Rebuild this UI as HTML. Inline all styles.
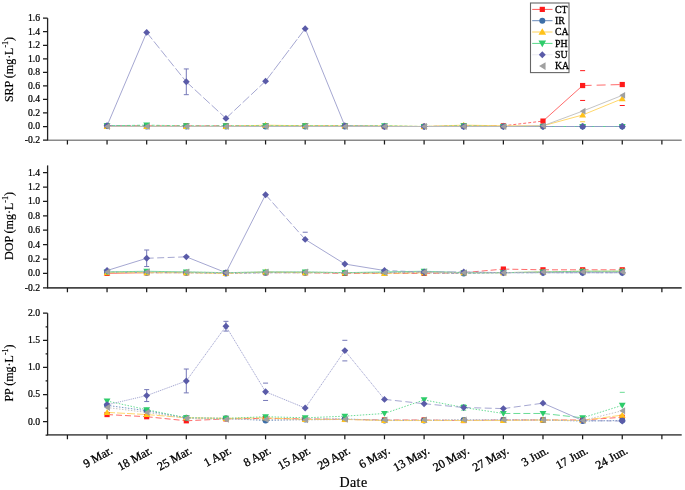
<!DOCTYPE html><html><head><meta charset="utf-8"><style>html,body{margin:0;padding:0;background:#fff;overflow:hidden;width:685px;height:490px;}svg{display:block;will-change:transform;font-family:"Liberation Serif",serif;} text{stroke:#000;stroke-width:0.3px;fill:#000;}</style></head><body>
<svg width="685" height="490" viewBox="0 0 685 490">
<rect width="685" height="490" fill="#fff"/>
<path d="M107.05,125.82L146.68,125.82" fill="none" stroke="#ff5a5a" stroke-width="0.9" stroke-dasharray="6,3"/>
<path d="M146.68,125.82L186.31,125.82" fill="none" stroke="#ff5a5a" stroke-width="0.9" stroke-dasharray="6,3"/>
<path d="M186.31,125.82L225.94,125.82" fill="none" stroke="#ff5a5a" stroke-width="0.9" stroke-dasharray="6,3"/>
<path d="M225.94,125.82L265.57,125.82" fill="none" stroke="#ff5a5a" stroke-width="0.9" stroke-dasharray="6,3"/>
<path d="M265.57,125.82L305.20,125.82" fill="none" stroke="#ff5a5a" stroke-width="0.9" stroke-dasharray="6,3"/>
<path d="M305.20,125.82L344.83,125.82" fill="none" stroke="#ff5a5a" stroke-width="0.9" stroke-dasharray="6,3"/>
<path d="M344.83,125.82L384.47,126.50" fill="none" stroke="#ff5a5a" stroke-width="0.9" stroke-dasharray="6,3"/>
<path d="M384.47,126.50L424.10,126.50" fill="none" stroke="#ff5a5a" stroke-width="0.9" stroke-dasharray="6,3"/>
<path d="M424.10,126.50L463.73,125.82" fill="none" stroke="#ff5a5a" stroke-width="0.9" stroke-dasharray="6,3"/>
<path d="M463.73,125.82L503.36,125.82" fill="none" stroke="#ff5a5a" stroke-width="0.9" stroke-dasharray="6,3"/>
<path d="M503.36,125.82L542.99,121.08" fill="none" stroke="#ff5a5a" stroke-width="0.9" stroke-dasharray="3,2"/>
<path d="M542.99,121.08L582.62,85.54" fill="none" stroke="#ff5a5a" stroke-width="0.9"/>
<path d="M582.62,85.54L622.25,84.53" fill="none" stroke="#ff5a5a" stroke-width="0.9" stroke-dasharray="9,5"/>
<path d="M107.05,125.82L146.68,126.50" fill="none" stroke="#6a8cbc" stroke-width="0.9"/>
<path d="M146.68,126.50L186.31,126.50" fill="none" stroke="#6a8cbc" stroke-width="0.9"/>
<path d="M186.31,126.50L225.94,126.50" fill="none" stroke="#6a8cbc" stroke-width="0.9"/>
<path d="M225.94,126.50L265.57,126.50" fill="none" stroke="#6a8cbc" stroke-width="0.9"/>
<path d="M265.57,126.50L305.20,126.50" fill="none" stroke="#6a8cbc" stroke-width="0.9"/>
<path d="M305.20,126.50L344.83,126.50" fill="none" stroke="#6a8cbc" stroke-width="0.9"/>
<path d="M344.83,126.50L384.47,126.50" fill="none" stroke="#6a8cbc" stroke-width="0.9"/>
<path d="M384.47,126.50L424.10,126.50" fill="none" stroke="#6a8cbc" stroke-width="0.9"/>
<path d="M424.10,126.50L463.73,126.50" fill="none" stroke="#6a8cbc" stroke-width="0.9"/>
<path d="M463.73,126.50L503.36,126.50" fill="none" stroke="#6a8cbc" stroke-width="0.9"/>
<path d="M503.36,126.50L542.99,126.50" fill="none" stroke="#6a8cbc" stroke-width="0.9"/>
<path d="M542.99,126.50L582.62,126.50" fill="none" stroke="#6a8cbc" stroke-width="0.9"/>
<path d="M582.62,126.50L622.25,126.50" fill="none" stroke="#6a8cbc" stroke-width="0.9"/>
<path d="M107.05,126.50L146.68,126.50" fill="none" stroke="#ffd25a" stroke-width="0.9"/>
<path d="M146.68,126.50L186.31,126.50" fill="none" stroke="#ffd25a" stroke-width="0.9"/>
<path d="M186.31,126.50L225.94,126.50" fill="none" stroke="#ffd25a" stroke-width="0.9"/>
<path d="M225.94,126.50L265.57,125.15" fill="none" stroke="#ffd25a" stroke-width="0.9"/>
<path d="M265.57,125.15L305.20,125.82" fill="none" stroke="#ffd25a" stroke-width="0.9"/>
<path d="M305.20,125.82L344.83,125.82" fill="none" stroke="#ffd25a" stroke-width="0.9"/>
<path d="M344.83,125.82L384.47,125.82" fill="none" stroke="#ffd25a" stroke-width="0.9"/>
<path d="M384.47,125.82L424.10,126.50" fill="none" stroke="#ffd25a" stroke-width="0.9"/>
<path d="M424.10,126.50L463.73,125.15" fill="none" stroke="#ffd25a" stroke-width="0.9"/>
<path d="M463.73,125.15L503.36,125.82" fill="none" stroke="#ffd25a" stroke-width="0.9"/>
<path d="M503.36,125.82L542.99,125.82" fill="none" stroke="#ffd25a" stroke-width="0.9"/>
<path d="M542.99,125.82L582.62,114.99" fill="none" stroke="#ffd25a" stroke-width="0.9"/>
<path d="M582.62,114.99L622.25,98.74" fill="none" stroke="#ffd25a" stroke-width="0.9"/>
<path d="M107.05,125.82L146.68,125.15" fill="none" stroke="#5ad88a" stroke-width="0.9" stroke-dasharray="3,2"/>
<path d="M146.68,125.15L186.31,125.82" fill="none" stroke="#5ad88a" stroke-width="0.9" stroke-dasharray="3,2"/>
<path d="M186.31,125.82L225.94,125.82" fill="none" stroke="#5ad88a" stroke-width="0.9" stroke-dasharray="3,2"/>
<path d="M225.94,125.82L265.57,125.82" fill="none" stroke="#5ad88a" stroke-width="0.9" stroke-dasharray="3,2"/>
<path d="M265.57,125.82L305.20,125.82" fill="none" stroke="#5ad88a" stroke-width="0.9" stroke-dasharray="3,2"/>
<path d="M305.20,125.82L344.83,125.82" fill="none" stroke="#5ad88a" stroke-width="0.9" stroke-dasharray="3,2"/>
<path d="M344.83,125.82L384.47,125.82" fill="none" stroke="#5ad88a" stroke-width="0.9" stroke-dasharray="3,2"/>
<path d="M384.47,125.82L424.10,126.50" fill="none" stroke="#5ad88a" stroke-width="0.9" stroke-dasharray="3,2"/>
<path d="M424.10,126.50L463.73,125.82" fill="none" stroke="#5ad88a" stroke-width="0.9" stroke-dasharray="3,2"/>
<path d="M463.73,125.82L503.36,126.50" fill="none" stroke="#5ad88a" stroke-width="0.9" stroke-dasharray="3,2"/>
<path d="M503.36,126.50L542.99,126.50" fill="none" stroke="#5ad88a" stroke-width="0.9" stroke-dasharray="3,2"/>
<path d="M542.99,126.50L582.62,126.50" fill="none" stroke="#5ad88a" stroke-width="0.9" stroke-dasharray="3,2"/>
<path d="M582.62,126.50L622.25,126.50" fill="none" stroke="#5ad88a" stroke-width="0.9" stroke-dasharray="3,2"/>
<path d="M107.05,125.82L146.68,32.40" fill="none" stroke="#9597c9" stroke-width="0.85"/>
<path d="M146.68,32.40L186.31,81.82" fill="none" stroke="#9597c9" stroke-width="0.85" stroke-dasharray="9,2.5"/>
<path d="M186.31,81.82L225.94,118.38" fill="none" stroke="#9597c9" stroke-width="0.85" stroke-dasharray="9,2.5"/>
<path d="M225.94,118.38L265.57,81.14" fill="none" stroke="#9597c9" stroke-width="0.85" stroke-dasharray="9,2.5"/>
<path d="M265.57,81.14L305.20,28.67" fill="none" stroke="#9597c9" stroke-width="0.85" stroke-dasharray="12,1.5"/>
<path d="M305.20,28.67L344.83,125.82" fill="none" stroke="#9597c9" stroke-width="0.85"/>
<path d="M344.83,125.82L384.47,126.50" fill="none" stroke="#9597c9" stroke-width="0.85" stroke-dasharray="9,2.5"/>
<path d="M384.47,126.50L424.10,126.50" fill="none" stroke="#9597c9" stroke-width="0.85" stroke-dasharray="9,2.5"/>
<path d="M424.10,126.50L463.73,126.50" fill="none" stroke="#9597c9" stroke-width="0.85" stroke-dasharray="9,2.5"/>
<path d="M463.73,126.50L503.36,126.50" fill="none" stroke="#9597c9" stroke-width="0.85" stroke-dasharray="9,2.5"/>
<path d="M503.36,126.50L542.99,126.50" fill="none" stroke="#9597c9" stroke-width="0.85" stroke-dasharray="9,2.5"/>
<path d="M542.99,126.50L582.62,126.50" fill="none" stroke="#9597c9" stroke-width="0.85" stroke-dasharray="9,2.5"/>
<path d="M582.62,126.50L622.25,126.50" fill="none" stroke="#9597c9" stroke-width="0.85" stroke-dasharray="9,2.5"/>
<path d="M107.05,126.50L146.68,126.50" fill="none" stroke="#bdbdbd" stroke-width="0.9"/>
<path d="M146.68,126.50L186.31,126.50" fill="none" stroke="#bdbdbd" stroke-width="0.9"/>
<path d="M186.31,126.50L225.94,126.50" fill="none" stroke="#bdbdbd" stroke-width="0.9"/>
<path d="M225.94,126.50L265.57,126.50" fill="none" stroke="#bdbdbd" stroke-width="0.9"/>
<path d="M265.57,126.50L305.20,126.50" fill="none" stroke="#bdbdbd" stroke-width="0.9"/>
<path d="M305.20,126.50L344.83,126.50" fill="none" stroke="#bdbdbd" stroke-width="0.9"/>
<path d="M344.83,126.50L384.47,126.50" fill="none" stroke="#bdbdbd" stroke-width="0.9"/>
<path d="M384.47,126.50L424.10,126.50" fill="none" stroke="#bdbdbd" stroke-width="0.9"/>
<path d="M424.10,126.50L463.73,126.50" fill="none" stroke="#bdbdbd" stroke-width="0.9"/>
<path d="M463.73,126.50L503.36,126.50" fill="none" stroke="#bdbdbd" stroke-width="0.9"/>
<path d="M503.36,126.50L542.99,125.82" fill="none" stroke="#bdbdbd" stroke-width="0.9"/>
<path d="M542.99,125.82L582.62,111.13" fill="none" stroke="#bdbdbd" stroke-width="0.9"/>
<path d="M582.62,111.13L622.25,95.36" fill="none" stroke="#bdbdbd" stroke-width="0.9"/>
<path d="M186.31,68.95V94.68M183.81,68.95H188.81M183.81,94.68H188.81" stroke="#7679b8" stroke-width="1" fill="none"/>
<path d="M580.12,70.65H585.12M580.12,100.44H585.12" stroke="#ff1a1a" stroke-width="1" fill="none"/>
<path d="M619.75,105.51H624.75" stroke="#ff1a1a" stroke-width="1" fill="none"/>
<path d="M580.12,121.76H585.12" stroke="#ffcf40" stroke-width="1" fill="none"/>
<rect x="104.45" y="123.22" width="5.20" height="5.20" fill="#ff1a1a"/>
<rect x="144.08" y="123.22" width="5.20" height="5.20" fill="#ff1a1a"/>
<rect x="183.71" y="123.22" width="5.20" height="5.20" fill="#ff1a1a"/>
<rect x="223.34" y="123.22" width="5.20" height="5.20" fill="#ff1a1a"/>
<rect x="262.97" y="123.22" width="5.20" height="5.20" fill="#ff1a1a"/>
<rect x="302.60" y="123.22" width="5.20" height="5.20" fill="#ff1a1a"/>
<rect x="342.23" y="123.22" width="5.20" height="5.20" fill="#ff1a1a"/>
<rect x="381.87" y="123.90" width="5.20" height="5.20" fill="#ff1a1a"/>
<rect x="421.50" y="123.90" width="5.20" height="5.20" fill="#ff1a1a"/>
<rect x="461.13" y="123.22" width="5.20" height="5.20" fill="#ff1a1a"/>
<rect x="500.76" y="123.22" width="5.20" height="5.20" fill="#ff1a1a"/>
<rect x="540.39" y="118.48" width="5.20" height="5.20" fill="#ff1a1a"/>
<rect x="580.02" y="82.94" width="5.20" height="5.20" fill="#ff1a1a"/>
<rect x="619.65" y="81.93" width="5.20" height="5.20" fill="#ff1a1a"/>
<circle cx="107.05" cy="125.82" r="3.00" fill="#3c6ea8"/>
<circle cx="146.68" cy="126.50" r="3.00" fill="#3c6ea8"/>
<circle cx="186.31" cy="126.50" r="3.00" fill="#3c6ea8"/>
<circle cx="225.94" cy="126.50" r="3.00" fill="#3c6ea8"/>
<circle cx="265.57" cy="126.50" r="3.00" fill="#3c6ea8"/>
<circle cx="305.20" cy="126.50" r="3.00" fill="#3c6ea8"/>
<circle cx="344.83" cy="126.50" r="3.00" fill="#3c6ea8"/>
<circle cx="384.47" cy="126.50" r="3.00" fill="#3c6ea8"/>
<circle cx="424.10" cy="126.50" r="3.00" fill="#3c6ea8"/>
<circle cx="463.73" cy="126.50" r="3.00" fill="#3c6ea8"/>
<circle cx="503.36" cy="126.50" r="3.00" fill="#3c6ea8"/>
<circle cx="542.99" cy="126.50" r="3.00" fill="#3c6ea8"/>
<circle cx="582.62" cy="126.50" r="3.00" fill="#3c6ea8"/>
<circle cx="622.25" cy="126.50" r="3.00" fill="#3c6ea8"/>
<path d="M107.05,123.10 L110.45,129.05 L103.65,129.05Z" fill="#ffc21a"/>
<path d="M146.68,123.10 L150.08,129.05 L143.28,129.05Z" fill="#ffc21a"/>
<path d="M186.31,123.10 L189.71,129.05 L182.91,129.05Z" fill="#ffc21a"/>
<path d="M225.94,123.10 L229.34,129.05 L222.54,129.05Z" fill="#ffc21a"/>
<path d="M265.57,121.75 L268.97,127.70 L262.17,127.70Z" fill="#ffc21a"/>
<path d="M305.20,122.42 L308.60,128.37 L301.80,128.37Z" fill="#ffc21a"/>
<path d="M344.83,122.42 L348.23,128.37 L341.43,128.37Z" fill="#ffc21a"/>
<path d="M384.47,122.42 L387.87,128.37 L381.07,128.37Z" fill="#ffc21a"/>
<path d="M424.10,123.10 L427.50,129.05 L420.70,129.05Z" fill="#ffc21a"/>
<path d="M463.73,121.75 L467.13,127.70 L460.33,127.70Z" fill="#ffc21a"/>
<path d="M503.36,122.42 L506.76,128.37 L499.96,128.37Z" fill="#ffc21a"/>
<path d="M542.99,122.42 L546.39,128.37 L539.59,128.37Z" fill="#ffc21a"/>
<path d="M582.62,111.59 L586.02,117.54 L579.22,117.54Z" fill="#ffc21a"/>
<path d="M622.25,95.34 L625.65,101.29 L618.85,101.29Z" fill="#ffc21a"/>
<path d="M107.05,129.22 L110.45,123.27 L103.65,123.27Z" fill="#2ecc6a"/>
<path d="M146.68,128.55 L150.08,122.60 L143.28,122.60Z" fill="#2ecc6a"/>
<path d="M186.31,129.22 L189.71,123.27 L182.91,123.27Z" fill="#2ecc6a"/>
<path d="M225.94,129.22 L229.34,123.27 L222.54,123.27Z" fill="#2ecc6a"/>
<path d="M265.57,129.22 L268.97,123.27 L262.17,123.27Z" fill="#2ecc6a"/>
<path d="M305.20,129.22 L308.60,123.27 L301.80,123.27Z" fill="#2ecc6a"/>
<path d="M344.83,129.22 L348.23,123.27 L341.43,123.27Z" fill="#2ecc6a"/>
<path d="M384.47,129.22 L387.87,123.27 L381.07,123.27Z" fill="#2ecc6a"/>
<path d="M424.10,129.90 L427.50,123.95 L420.70,123.95Z" fill="#2ecc6a"/>
<path d="M463.73,129.22 L467.13,123.27 L460.33,123.27Z" fill="#2ecc6a"/>
<path d="M503.36,129.90 L506.76,123.95 L499.96,123.95Z" fill="#2ecc6a"/>
<path d="M542.99,129.90 L546.39,123.95 L539.59,123.95Z" fill="#2ecc6a"/>
<path d="M582.62,129.90 L586.02,123.95 L579.22,123.95Z" fill="#2ecc6a"/>
<path d="M622.25,129.90 L625.65,123.95 L618.85,123.95Z" fill="#2ecc6a"/>
<path d="M107.05,122.37 L110.50,125.82 L107.05,129.27 L103.60,125.82Z" fill="#5a5ba8"/>
<path d="M146.68,28.95 L150.13,32.40 L146.68,35.85 L143.23,32.40Z" fill="#5a5ba8"/>
<path d="M186.31,78.37 L189.76,81.82 L186.31,85.27 L182.86,81.82Z" fill="#5a5ba8"/>
<path d="M225.94,114.93 L229.39,118.38 L225.94,121.83 L222.49,118.38Z" fill="#5a5ba8"/>
<path d="M265.57,77.69 L269.02,81.14 L265.57,84.59 L262.12,81.14Z" fill="#5a5ba8"/>
<path d="M305.20,25.22 L308.65,28.67 L305.20,32.12 L301.75,28.67Z" fill="#5a5ba8"/>
<path d="M344.83,122.37 L348.28,125.82 L344.83,129.27 L341.38,125.82Z" fill="#5a5ba8"/>
<path d="M384.47,123.05 L387.92,126.50 L384.47,129.95 L381.02,126.50Z" fill="#5a5ba8"/>
<path d="M424.10,123.05 L427.55,126.50 L424.10,129.95 L420.65,126.50Z" fill="#5a5ba8"/>
<path d="M463.73,123.05 L467.18,126.50 L463.73,129.95 L460.28,126.50Z" fill="#5a5ba8"/>
<path d="M503.36,123.05 L506.81,126.50 L503.36,129.95 L499.91,126.50Z" fill="#5a5ba8"/>
<path d="M542.99,123.05 L546.44,126.50 L542.99,129.95 L539.54,126.50Z" fill="#5a5ba8"/>
<path d="M582.62,123.05 L586.07,126.50 L582.62,129.95 L579.17,126.50Z" fill="#5a5ba8"/>
<path d="M622.25,123.05 L625.70,126.50 L622.25,129.95 L618.80,126.50Z" fill="#5a5ba8"/>
<path d="M104.16,126.50 L109.94,123.10 L109.94,129.90Z" fill="#a0a0a0"/>
<path d="M143.79,126.50 L149.57,123.10 L149.57,129.90Z" fill="#a0a0a0"/>
<path d="M183.42,126.50 L189.20,123.10 L189.20,129.90Z" fill="#a0a0a0"/>
<path d="M223.05,126.50 L228.83,123.10 L228.83,129.90Z" fill="#a0a0a0"/>
<path d="M262.68,126.50 L268.46,123.10 L268.46,129.90Z" fill="#a0a0a0"/>
<path d="M302.31,126.50 L308.09,123.10 L308.09,129.90Z" fill="#a0a0a0"/>
<path d="M341.94,126.50 L347.72,123.10 L347.72,129.90Z" fill="#a0a0a0"/>
<path d="M381.58,126.50 L387.36,123.10 L387.36,129.90Z" fill="#a0a0a0"/>
<path d="M421.21,126.50 L426.99,123.10 L426.99,129.90Z" fill="#a0a0a0"/>
<path d="M460.84,126.50 L466.62,123.10 L466.62,129.90Z" fill="#a0a0a0"/>
<path d="M500.47,126.50 L506.25,123.10 L506.25,129.90Z" fill="#a0a0a0"/>
<path d="M540.10,125.82 L545.88,122.42 L545.88,129.22Z" fill="#a0a0a0"/>
<path d="M579.73,111.13 L585.51,107.73 L585.51,114.53Z" fill="#a0a0a0"/>
<path d="M619.36,95.36 L625.14,91.96 L625.14,98.76Z" fill="#a0a0a0"/>
<path d="M47.00,140.20H681.70" stroke="#8a8a8a" stroke-width="1.4" fill="none"/>
<path d="M47.60,18.18V140.20" stroke="#222" stroke-width="1.3" fill="none"/>
<path d="M43.00,140.04H47.60M43.00,126.50H47.60M43.00,112.96H47.60M43.00,99.42H47.60M43.00,85.88H47.60M43.00,72.34H47.60M43.00,58.80H47.60M43.00,45.26H47.60M43.00,31.72H47.60M43.00,18.18H47.60M67.42,140.20V144.60M107.05,140.20V144.60M146.68,140.20V144.60M186.31,140.20V144.60M225.94,140.20V144.60M265.57,140.20V144.60M305.20,140.20V144.60M344.83,140.20V144.60M384.47,140.20V144.60M424.10,140.20V144.60M463.73,140.20V144.60M503.36,140.20V144.60M542.99,140.20V144.60M582.62,140.20V144.60M622.25,140.20V144.60M661.88,140.20V144.60" stroke="#1a1a1a" stroke-width="1.25" fill="none"/>
<text x="40.10" y="142.94" font-size="9.7" style="stroke-width:0.22px" text-anchor="end" fill="#111">-0.2</text>
<text x="40.10" y="129.40" font-size="9.7" style="stroke-width:0.22px" text-anchor="end" fill="#111">0.0</text>
<text x="40.10" y="115.86" font-size="9.7" style="stroke-width:0.22px" text-anchor="end" fill="#111">0.2</text>
<text x="40.10" y="102.32" font-size="9.7" style="stroke-width:0.22px" text-anchor="end" fill="#111">0.4</text>
<text x="40.10" y="88.78" font-size="9.7" style="stroke-width:0.22px" text-anchor="end" fill="#111">0.6</text>
<text x="40.10" y="75.24" font-size="9.7" style="stroke-width:0.22px" text-anchor="end" fill="#111">0.8</text>
<text x="40.10" y="61.70" font-size="9.7" style="stroke-width:0.22px" text-anchor="end" fill="#111">1.0</text>
<text x="40.10" y="48.16" font-size="9.7" style="stroke-width:0.22px" text-anchor="end" fill="#111">1.2</text>
<text x="40.10" y="34.62" font-size="9.7" style="stroke-width:0.22px" text-anchor="end" fill="#111">1.4</text>
<text x="40.10" y="21.08" font-size="9.7" style="stroke-width:0.22px" text-anchor="end" fill="#111">1.6</text>
<text transform="translate(13.2,69.5) rotate(-90)" x="0" y="0" font-size="12" style="stroke-width:0.18px" text-anchor="middle" fill="#111">SRP (mg·L<tspan font-size="8" dy="-5.2">-1</tspan><tspan dy="5.2">)</tspan></text>
<path d="M107.05,273.40L146.68,272.68" fill="none" stroke="#ff5a5a" stroke-width="0.9"/>
<path d="M146.68,272.68L186.31,272.68" fill="none" stroke="#ff5a5a" stroke-width="0.9" stroke-dasharray="6,3"/>
<path d="M186.31,272.68L225.94,272.68" fill="none" stroke="#ff5a5a" stroke-width="0.9" stroke-dasharray="6,3"/>
<path d="M225.94,272.68L265.57,272.68" fill="none" stroke="#ff5a5a" stroke-width="0.9" stroke-dasharray="6,3"/>
<path d="M265.57,272.68L305.20,272.68" fill="none" stroke="#ff5a5a" stroke-width="0.9" stroke-dasharray="6,3"/>
<path d="M305.20,272.68L344.83,273.40" fill="none" stroke="#ff5a5a" stroke-width="0.9" stroke-dasharray="6,3"/>
<path d="M344.83,273.40L384.47,273.40" fill="none" stroke="#ff5a5a" stroke-width="0.9" stroke-dasharray="6,3"/>
<path d="M384.47,273.40L424.10,273.40" fill="none" stroke="#ff5a5a" stroke-width="0.9" stroke-dasharray="6,3"/>
<path d="M424.10,273.40L463.73,272.68" fill="none" stroke="#ff5a5a" stroke-width="0.9" stroke-dasharray="6,3"/>
<path d="M463.73,272.68L503.36,269.08" fill="none" stroke="#ff5a5a" stroke-width="0.9" stroke-dasharray="6,3"/>
<path d="M503.36,269.08L542.99,269.80" fill="none" stroke="#ff5a5a" stroke-width="0.9" stroke-dasharray="6,3"/>
<path d="M542.99,269.80L582.62,269.80" fill="none" stroke="#ff5a5a" stroke-width="0.9" stroke-dasharray="6,3"/>
<path d="M582.62,269.80L622.25,269.80" fill="none" stroke="#ff5a5a" stroke-width="0.9" stroke-dasharray="6,3"/>
<path d="M107.05,271.96L146.68,272.68" fill="none" stroke="#6a8cbc" stroke-width="0.9" stroke-dasharray="3,1.5"/>
<path d="M146.68,272.68L186.31,272.68" fill="none" stroke="#6a8cbc" stroke-width="0.9" stroke-dasharray="3,1.5"/>
<path d="M186.31,272.68L225.94,273.40" fill="none" stroke="#6a8cbc" stroke-width="0.9" stroke-dasharray="3,1.5"/>
<path d="M225.94,273.40L265.57,272.68" fill="none" stroke="#6a8cbc" stroke-width="0.9" stroke-dasharray="3,1.5"/>
<path d="M265.57,272.68L305.20,272.68" fill="none" stroke="#6a8cbc" stroke-width="0.9" stroke-dasharray="3,1.5"/>
<path d="M305.20,272.68L344.83,272.68" fill="none" stroke="#6a8cbc" stroke-width="0.9" stroke-dasharray="3,1.5"/>
<path d="M344.83,272.68L384.47,272.68" fill="none" stroke="#6a8cbc" stroke-width="0.9" stroke-dasharray="3,1.5"/>
<path d="M384.47,272.68L424.10,272.68" fill="none" stroke="#6a8cbc" stroke-width="0.9" stroke-dasharray="3,1.5"/>
<path d="M424.10,272.68L463.73,273.40" fill="none" stroke="#6a8cbc" stroke-width="0.9" stroke-dasharray="3,1.5"/>
<path d="M463.73,273.40L503.36,272.68" fill="none" stroke="#6a8cbc" stroke-width="0.9" stroke-dasharray="3,1.5"/>
<path d="M503.36,272.68L542.99,272.68" fill="none" stroke="#6a8cbc" stroke-width="0.9" stroke-dasharray="3,1.5"/>
<path d="M542.99,272.68L582.62,272.68" fill="none" stroke="#6a8cbc" stroke-width="0.9" stroke-dasharray="3,1.5"/>
<path d="M582.62,272.68L622.25,272.68" fill="none" stroke="#6a8cbc" stroke-width="0.9" stroke-dasharray="3,1.5"/>
<path d="M107.05,272.68L146.68,272.68" fill="none" stroke="#ffd25a" stroke-width="0.9" stroke-dasharray="8,2"/>
<path d="M146.68,272.68L186.31,272.68" fill="none" stroke="#ffd25a" stroke-width="0.9" stroke-dasharray="8,2"/>
<path d="M186.31,272.68L225.94,273.40" fill="none" stroke="#ffd25a" stroke-width="0.9" stroke-dasharray="8,2"/>
<path d="M225.94,273.40L265.57,271.96" fill="none" stroke="#ffd25a" stroke-width="0.9" stroke-dasharray="8,2"/>
<path d="M265.57,271.96L305.20,272.68" fill="none" stroke="#ffd25a" stroke-width="0.9" stroke-dasharray="8,2"/>
<path d="M305.20,272.68L344.83,272.68" fill="none" stroke="#ffd25a" stroke-width="0.9" stroke-dasharray="8,2"/>
<path d="M344.83,272.68L384.47,273.40" fill="none" stroke="#ffd25a" stroke-width="0.9" stroke-dasharray="8,2"/>
<path d="M384.47,273.40L424.10,272.68" fill="none" stroke="#ffd25a" stroke-width="0.9" stroke-dasharray="8,2"/>
<path d="M424.10,272.68L463.73,272.68" fill="none" stroke="#ffd25a" stroke-width="0.9" stroke-dasharray="8,2"/>
<path d="M463.73,272.68L503.36,272.68" fill="none" stroke="#ffd25a" stroke-width="0.9" stroke-dasharray="8,2"/>
<path d="M503.36,272.68L542.99,271.96" fill="none" stroke="#ffd25a" stroke-width="0.9" stroke-dasharray="8,2"/>
<path d="M542.99,271.96L582.62,271.24" fill="none" stroke="#ffd25a" stroke-width="0.9" stroke-dasharray="8,2"/>
<path d="M582.62,271.24L622.25,271.24" fill="none" stroke="#ffd25a" stroke-width="0.9" stroke-dasharray="8,2"/>
<path d="M107.05,271.96L146.68,271.24" fill="none" stroke="#5ad88a" stroke-width="0.9"/>
<path d="M146.68,271.24L186.31,271.96" fill="none" stroke="#5ad88a" stroke-width="0.9"/>
<path d="M186.31,271.96L225.94,272.68" fill="none" stroke="#5ad88a" stroke-width="0.9"/>
<path d="M225.94,272.68L265.57,271.96" fill="none" stroke="#5ad88a" stroke-width="0.9"/>
<path d="M265.57,271.96L305.20,271.96" fill="none" stroke="#5ad88a" stroke-width="0.9"/>
<path d="M305.20,271.96L344.83,272.68" fill="none" stroke="#5ad88a" stroke-width="0.9"/>
<path d="M344.83,272.68L384.47,271.96" fill="none" stroke="#5ad88a" stroke-width="0.9"/>
<path d="M384.47,271.96L424.10,271.24" fill="none" stroke="#5ad88a" stroke-width="0.9"/>
<path d="M424.10,271.24L463.73,272.68" fill="none" stroke="#5ad88a" stroke-width="0.9"/>
<path d="M463.73,272.68L503.36,272.68" fill="none" stroke="#5ad88a" stroke-width="0.9"/>
<path d="M503.36,272.68L542.99,271.96" fill="none" stroke="#5ad88a" stroke-width="0.9"/>
<path d="M542.99,271.96L582.62,271.24" fill="none" stroke="#5ad88a" stroke-width="0.9"/>
<path d="M582.62,271.24L622.25,271.24" fill="none" stroke="#5ad88a" stroke-width="0.9"/>
<path d="M107.05,270.52L146.68,258.28" fill="none" stroke="#9597c9" stroke-width="0.85"/>
<path d="M146.68,258.28L186.31,256.84" fill="none" stroke="#9597c9" stroke-width="0.85" stroke-dasharray="7,3.5"/>
<path d="M186.31,256.84L225.94,272.68" fill="none" stroke="#9597c9" stroke-width="0.85"/>
<path d="M225.94,272.68L265.57,194.70" fill="none" stroke="#9597c9" stroke-width="0.85"/>
<path d="M265.57,194.70L305.20,239.42" fill="none" stroke="#9597c9" stroke-width="0.85" stroke-dasharray="8,2.5"/>
<path d="M305.20,239.42L344.83,264.04" fill="none" stroke="#9597c9" stroke-width="0.85"/>
<path d="M344.83,264.04L384.47,270.52" fill="none" stroke="#9597c9" stroke-width="0.85"/>
<path d="M384.47,270.52L424.10,271.96" fill="none" stroke="#9597c9" stroke-width="0.85" stroke-dasharray="5,3"/>
<path d="M424.10,271.96L463.73,271.96" fill="none" stroke="#9597c9" stroke-width="0.85" stroke-dasharray="9,2.5"/>
<path d="M463.73,271.96L503.36,272.68" fill="none" stroke="#9597c9" stroke-width="0.85" stroke-dasharray="9,2.5"/>
<path d="M503.36,272.68L542.99,272.68" fill="none" stroke="#9597c9" stroke-width="0.85" stroke-dasharray="9,2.5"/>
<path d="M542.99,272.68L582.62,272.68" fill="none" stroke="#9597c9" stroke-width="0.85" stroke-dasharray="9,2.5"/>
<path d="M582.62,272.68L622.25,272.68" fill="none" stroke="#9597c9" stroke-width="0.85" stroke-dasharray="9,2.5"/>
<path d="M107.05,271.96L146.68,271.96" fill="none" stroke="#bdbdbd" stroke-width="0.9" stroke-dasharray="2,1.5"/>
<path d="M146.68,271.96L186.31,271.96" fill="none" stroke="#bdbdbd" stroke-width="0.9" stroke-dasharray="2,1.5"/>
<path d="M186.31,271.96L225.94,272.68" fill="none" stroke="#bdbdbd" stroke-width="0.9" stroke-dasharray="2,1.5"/>
<path d="M225.94,272.68L265.57,271.96" fill="none" stroke="#bdbdbd" stroke-width="0.9" stroke-dasharray="2,1.5"/>
<path d="M265.57,271.96L305.20,271.96" fill="none" stroke="#bdbdbd" stroke-width="0.9" stroke-dasharray="2,1.5"/>
<path d="M305.20,271.96L344.83,272.68" fill="none" stroke="#bdbdbd" stroke-width="0.9" stroke-dasharray="2,1.5"/>
<path d="M344.83,272.68L384.47,272.68" fill="none" stroke="#bdbdbd" stroke-width="0.9" stroke-dasharray="2,1.5"/>
<path d="M384.47,272.68L424.10,271.96" fill="none" stroke="#bdbdbd" stroke-width="0.9" stroke-dasharray="2,1.5"/>
<path d="M424.10,271.96L463.73,272.68" fill="none" stroke="#bdbdbd" stroke-width="0.9" stroke-dasharray="2,1.5"/>
<path d="M463.73,272.68L503.36,272.68" fill="none" stroke="#bdbdbd" stroke-width="0.9" stroke-dasharray="2,1.5"/>
<path d="M503.36,272.68L542.99,271.96" fill="none" stroke="#bdbdbd" stroke-width="0.9" stroke-dasharray="2,1.5"/>
<path d="M542.99,271.96L582.62,271.96" fill="none" stroke="#bdbdbd" stroke-width="0.9" stroke-dasharray="2,1.5"/>
<path d="M582.62,271.96L622.25,271.96" fill="none" stroke="#bdbdbd" stroke-width="0.9" stroke-dasharray="2,1.5"/>
<path d="M146.68,250.00V266.56M144.18,250.00H149.18M144.18,266.56H149.18" stroke="#7679b8" stroke-width="1" fill="none"/>
<path d="M302.70,232.22H307.70" stroke="#7679b8" stroke-width="1" fill="none"/>
<rect x="104.45" y="270.80" width="5.20" height="5.20" fill="#ff1a1a"/>
<rect x="144.08" y="270.08" width="5.20" height="5.20" fill="#ff1a1a"/>
<rect x="183.71" y="270.08" width="5.20" height="5.20" fill="#ff1a1a"/>
<rect x="223.34" y="270.08" width="5.20" height="5.20" fill="#ff1a1a"/>
<rect x="262.97" y="270.08" width="5.20" height="5.20" fill="#ff1a1a"/>
<rect x="302.60" y="270.08" width="5.20" height="5.20" fill="#ff1a1a"/>
<rect x="342.23" y="270.80" width="5.20" height="5.20" fill="#ff1a1a"/>
<rect x="381.87" y="270.80" width="5.20" height="5.20" fill="#ff1a1a"/>
<rect x="421.50" y="270.80" width="5.20" height="5.20" fill="#ff1a1a"/>
<rect x="461.13" y="270.08" width="5.20" height="5.20" fill="#ff1a1a"/>
<rect x="500.76" y="266.48" width="5.20" height="5.20" fill="#ff1a1a"/>
<rect x="540.39" y="267.20" width="5.20" height="5.20" fill="#ff1a1a"/>
<rect x="580.02" y="267.20" width="5.20" height="5.20" fill="#ff1a1a"/>
<rect x="619.65" y="267.20" width="5.20" height="5.20" fill="#ff1a1a"/>
<circle cx="107.05" cy="271.96" r="3.00" fill="#3c6ea8"/>
<circle cx="146.68" cy="272.68" r="3.00" fill="#3c6ea8"/>
<circle cx="186.31" cy="272.68" r="3.00" fill="#3c6ea8"/>
<circle cx="225.94" cy="273.40" r="3.00" fill="#3c6ea8"/>
<circle cx="265.57" cy="272.68" r="3.00" fill="#3c6ea8"/>
<circle cx="305.20" cy="272.68" r="3.00" fill="#3c6ea8"/>
<circle cx="344.83" cy="272.68" r="3.00" fill="#3c6ea8"/>
<circle cx="384.47" cy="272.68" r="3.00" fill="#3c6ea8"/>
<circle cx="424.10" cy="272.68" r="3.00" fill="#3c6ea8"/>
<circle cx="463.73" cy="273.40" r="3.00" fill="#3c6ea8"/>
<circle cx="503.36" cy="272.68" r="3.00" fill="#3c6ea8"/>
<circle cx="542.99" cy="272.68" r="3.00" fill="#3c6ea8"/>
<circle cx="582.62" cy="272.68" r="3.00" fill="#3c6ea8"/>
<circle cx="622.25" cy="272.68" r="3.00" fill="#3c6ea8"/>
<path d="M107.05,269.28 L110.45,275.23 L103.65,275.23Z" fill="#ffc21a"/>
<path d="M146.68,269.28 L150.08,275.23 L143.28,275.23Z" fill="#ffc21a"/>
<path d="M186.31,269.28 L189.71,275.23 L182.91,275.23Z" fill="#ffc21a"/>
<path d="M225.94,270.00 L229.34,275.95 L222.54,275.95Z" fill="#ffc21a"/>
<path d="M265.57,268.56 L268.97,274.51 L262.17,274.51Z" fill="#ffc21a"/>
<path d="M305.20,269.28 L308.60,275.23 L301.80,275.23Z" fill="#ffc21a"/>
<path d="M344.83,269.28 L348.23,275.23 L341.43,275.23Z" fill="#ffc21a"/>
<path d="M384.47,270.00 L387.87,275.95 L381.07,275.95Z" fill="#ffc21a"/>
<path d="M424.10,269.28 L427.50,275.23 L420.70,275.23Z" fill="#ffc21a"/>
<path d="M463.73,269.28 L467.13,275.23 L460.33,275.23Z" fill="#ffc21a"/>
<path d="M503.36,269.28 L506.76,275.23 L499.96,275.23Z" fill="#ffc21a"/>
<path d="M542.99,268.56 L546.39,274.51 L539.59,274.51Z" fill="#ffc21a"/>
<path d="M582.62,267.84 L586.02,273.79 L579.22,273.79Z" fill="#ffc21a"/>
<path d="M622.25,267.84 L625.65,273.79 L618.85,273.79Z" fill="#ffc21a"/>
<path d="M107.05,275.36 L110.45,269.41 L103.65,269.41Z" fill="#2ecc6a"/>
<path d="M146.68,274.64 L150.08,268.69 L143.28,268.69Z" fill="#2ecc6a"/>
<path d="M186.31,275.36 L189.71,269.41 L182.91,269.41Z" fill="#2ecc6a"/>
<path d="M225.94,276.08 L229.34,270.13 L222.54,270.13Z" fill="#2ecc6a"/>
<path d="M265.57,275.36 L268.97,269.41 L262.17,269.41Z" fill="#2ecc6a"/>
<path d="M305.20,275.36 L308.60,269.41 L301.80,269.41Z" fill="#2ecc6a"/>
<path d="M344.83,276.08 L348.23,270.13 L341.43,270.13Z" fill="#2ecc6a"/>
<path d="M384.47,275.36 L387.87,269.41 L381.07,269.41Z" fill="#2ecc6a"/>
<path d="M424.10,274.64 L427.50,268.69 L420.70,268.69Z" fill="#2ecc6a"/>
<path d="M463.73,276.08 L467.13,270.13 L460.33,270.13Z" fill="#2ecc6a"/>
<path d="M503.36,276.08 L506.76,270.13 L499.96,270.13Z" fill="#2ecc6a"/>
<path d="M542.99,275.36 L546.39,269.41 L539.59,269.41Z" fill="#2ecc6a"/>
<path d="M582.62,274.64 L586.02,268.69 L579.22,268.69Z" fill="#2ecc6a"/>
<path d="M622.25,274.64 L625.65,268.69 L618.85,268.69Z" fill="#2ecc6a"/>
<path d="M107.05,267.07 L110.50,270.52 L107.05,273.97 L103.60,270.52Z" fill="#5a5ba8"/>
<path d="M146.68,254.83 L150.13,258.28 L146.68,261.73 L143.23,258.28Z" fill="#5a5ba8"/>
<path d="M186.31,253.39 L189.76,256.84 L186.31,260.29 L182.86,256.84Z" fill="#5a5ba8"/>
<path d="M225.94,269.23 L229.39,272.68 L225.94,276.13 L222.49,272.68Z" fill="#5a5ba8"/>
<path d="M265.57,191.25 L269.02,194.70 L265.57,198.15 L262.12,194.70Z" fill="#5a5ba8"/>
<path d="M305.20,235.97 L308.65,239.42 L305.20,242.87 L301.75,239.42Z" fill="#5a5ba8"/>
<path d="M344.83,260.59 L348.28,264.04 L344.83,267.49 L341.38,264.04Z" fill="#5a5ba8"/>
<path d="M384.47,267.07 L387.92,270.52 L384.47,273.97 L381.02,270.52Z" fill="#5a5ba8"/>
<path d="M424.10,268.51 L427.55,271.96 L424.10,275.41 L420.65,271.96Z" fill="#5a5ba8"/>
<path d="M463.73,268.51 L467.18,271.96 L463.73,275.41 L460.28,271.96Z" fill="#5a5ba8"/>
<path d="M503.36,269.23 L506.81,272.68 L503.36,276.13 L499.91,272.68Z" fill="#5a5ba8"/>
<path d="M542.99,269.23 L546.44,272.68 L542.99,276.13 L539.54,272.68Z" fill="#5a5ba8"/>
<path d="M582.62,269.23 L586.07,272.68 L582.62,276.13 L579.17,272.68Z" fill="#5a5ba8"/>
<path d="M622.25,269.23 L625.70,272.68 L622.25,276.13 L618.80,272.68Z" fill="#5a5ba8"/>
<path d="M104.16,271.96 L109.94,268.56 L109.94,275.36Z" fill="#a0a0a0"/>
<path d="M143.79,271.96 L149.57,268.56 L149.57,275.36Z" fill="#a0a0a0"/>
<path d="M183.42,271.96 L189.20,268.56 L189.20,275.36Z" fill="#a0a0a0"/>
<path d="M223.05,272.68 L228.83,269.28 L228.83,276.08Z" fill="#a0a0a0"/>
<path d="M262.68,271.96 L268.46,268.56 L268.46,275.36Z" fill="#a0a0a0"/>
<path d="M302.31,271.96 L308.09,268.56 L308.09,275.36Z" fill="#a0a0a0"/>
<path d="M341.94,272.68 L347.72,269.28 L347.72,276.08Z" fill="#a0a0a0"/>
<path d="M381.58,272.68 L387.36,269.28 L387.36,276.08Z" fill="#a0a0a0"/>
<path d="M421.21,271.96 L426.99,268.56 L426.99,275.36Z" fill="#a0a0a0"/>
<path d="M460.84,272.68 L466.62,269.28 L466.62,276.08Z" fill="#a0a0a0"/>
<path d="M500.47,272.68 L506.25,269.28 L506.25,276.08Z" fill="#a0a0a0"/>
<path d="M540.10,271.96 L545.88,268.56 L545.88,275.36Z" fill="#a0a0a0"/>
<path d="M579.73,271.96 L585.51,268.56 L585.51,275.36Z" fill="#a0a0a0"/>
<path d="M619.36,271.96 L625.14,268.56 L625.14,275.36Z" fill="#a0a0a0"/>
<path d="M47.00,287.90H681.70" stroke="#454545" stroke-width="1.8" fill="none"/>
<path d="M47.60,165.40V287.90" stroke="#222" stroke-width="1.3" fill="none"/>
<path d="M43.00,287.80H47.60M43.00,273.40H47.60M43.00,259.00H47.60M43.00,244.60H47.60M43.00,230.20H47.60M43.00,215.80H47.60M43.00,201.40H47.60M43.00,187.00H47.60M43.00,172.60H47.60M67.42,287.90V292.30M107.05,287.90V292.30M146.68,287.90V292.30M186.31,287.90V292.30M225.94,287.90V292.30M265.57,287.90V292.30M305.20,287.90V292.30M344.83,287.90V292.30M384.47,287.90V292.30M424.10,287.90V292.30M463.73,287.90V292.30M503.36,287.90V292.30M542.99,287.90V292.30M582.62,287.90V292.30M622.25,287.90V292.30M661.88,287.90V292.30" stroke="#1a1a1a" stroke-width="1.25" fill="none"/>
<text x="40.10" y="290.70" font-size="9.7" style="stroke-width:0.22px" text-anchor="end" fill="#111">-0.2</text>
<text x="40.10" y="276.30" font-size="9.7" style="stroke-width:0.22px" text-anchor="end" fill="#111">0.0</text>
<text x="40.10" y="261.90" font-size="9.7" style="stroke-width:0.22px" text-anchor="end" fill="#111">0.2</text>
<text x="40.10" y="247.50" font-size="9.7" style="stroke-width:0.22px" text-anchor="end" fill="#111">0.4</text>
<text x="40.10" y="233.10" font-size="9.7" style="stroke-width:0.22px" text-anchor="end" fill="#111">0.6</text>
<text x="40.10" y="218.70" font-size="9.7" style="stroke-width:0.22px" text-anchor="end" fill="#111">0.8</text>
<text x="40.10" y="204.30" font-size="9.7" style="stroke-width:0.22px" text-anchor="end" fill="#111">1.0</text>
<text x="40.10" y="189.90" font-size="9.7" style="stroke-width:0.22px" text-anchor="end" fill="#111">1.2</text>
<text x="40.10" y="175.50" font-size="9.7" style="stroke-width:0.22px" text-anchor="end" fill="#111">1.4</text>
<text transform="translate(13.2,226.0) rotate(-90)" x="0" y="0" font-size="12" style="stroke-width:0.18px" text-anchor="middle" fill="#111">DOP (mg·L<tspan font-size="8" dy="-5.2">-1</tspan><tspan dy="5.2">)</tspan></text>
<path d="M107.05,414.55L146.68,416.72" fill="none" stroke="#ff5a5a" stroke-width="0.9" stroke-dasharray="6,3"/>
<path d="M146.68,416.72L186.31,420.79" fill="none" stroke="#ff5a5a" stroke-width="0.9" stroke-dasharray="6,3"/>
<path d="M186.31,420.79L225.94,418.89" fill="none" stroke="#ff5a5a" stroke-width="0.9" stroke-dasharray="6,3"/>
<path d="M225.94,418.89L265.57,418.35" fill="none" stroke="#ff5a5a" stroke-width="0.9" stroke-dasharray="6,3"/>
<path d="M265.57,418.35L305.20,418.89" fill="none" stroke="#ff5a5a" stroke-width="0.9" stroke-dasharray="6,3"/>
<path d="M305.20,418.89L344.83,419.43" fill="none" stroke="#ff5a5a" stroke-width="0.9" stroke-dasharray="6,3"/>
<path d="M344.83,419.43L384.47,419.97" fill="none" stroke="#ff5a5a" stroke-width="0.9" stroke-dasharray="6,3"/>
<path d="M384.47,419.97L424.10,419.97" fill="none" stroke="#ff5a5a" stroke-width="0.9" stroke-dasharray="6,3"/>
<path d="M424.10,419.97L463.73,420.52" fill="none" stroke="#ff5a5a" stroke-width="0.9" stroke-dasharray="6,3"/>
<path d="M463.73,420.52L503.36,419.97" fill="none" stroke="#ff5a5a" stroke-width="0.9" stroke-dasharray="6,3"/>
<path d="M503.36,419.97L542.99,419.97" fill="none" stroke="#ff5a5a" stroke-width="0.9" stroke-dasharray="6,3"/>
<path d="M542.99,419.97L582.62,419.97" fill="none" stroke="#ff5a5a" stroke-width="0.9" stroke-dasharray="6,3"/>
<path d="M582.62,419.97L622.25,417.26" fill="none" stroke="#ff5a5a" stroke-width="0.9" stroke-dasharray="6,3"/>
<path d="M107.05,405.34L146.68,410.76" fill="none" stroke="#6a8cbc" stroke-width="0.9" stroke-dasharray="1.5,1.5"/>
<path d="M146.68,410.76L186.31,417.81" fill="none" stroke="#6a8cbc" stroke-width="0.9" stroke-dasharray="1.5,1.5"/>
<path d="M186.31,417.81L225.94,418.35" fill="none" stroke="#6a8cbc" stroke-width="0.9" stroke-dasharray="1.5,1.5"/>
<path d="M225.94,418.35L265.57,420.52" fill="none" stroke="#6a8cbc" stroke-width="0.9" stroke-dasharray="1.5,1.5"/>
<path d="M265.57,420.52L305.20,419.43" fill="none" stroke="#6a8cbc" stroke-width="0.9" stroke-dasharray="1.5,1.5"/>
<path d="M305.20,419.43L344.83,418.89" fill="none" stroke="#6a8cbc" stroke-width="0.9" stroke-dasharray="1.5,1.5"/>
<path d="M344.83,418.89L384.47,420.52" fill="none" stroke="#6a8cbc" stroke-width="0.9" stroke-dasharray="1.5,1.5"/>
<path d="M384.47,420.52L424.10,420.52" fill="none" stroke="#6a8cbc" stroke-width="0.9" stroke-dasharray="1.5,1.5"/>
<path d="M424.10,420.52L463.73,419.97" fill="none" stroke="#6a8cbc" stroke-width="0.9" stroke-dasharray="1.5,1.5"/>
<path d="M463.73,419.97L503.36,419.97" fill="none" stroke="#6a8cbc" stroke-width="0.9" stroke-dasharray="1.5,1.5"/>
<path d="M503.36,419.97L542.99,419.97" fill="none" stroke="#6a8cbc" stroke-width="0.9" stroke-dasharray="1.5,1.5"/>
<path d="M542.99,419.97L582.62,421.06" fill="none" stroke="#6a8cbc" stroke-width="0.9" stroke-dasharray="1.5,1.5"/>
<path d="M582.62,421.06L622.25,420.52" fill="none" stroke="#6a8cbc" stroke-width="0.9" stroke-dasharray="1.5,1.5"/>
<path d="M107.05,412.39L146.68,414.55" fill="none" stroke="#ffd25a" stroke-width="0.9" stroke-dasharray="8,2"/>
<path d="M146.68,414.55L186.31,417.81" fill="none" stroke="#ffd25a" stroke-width="0.9" stroke-dasharray="8,2"/>
<path d="M186.31,417.81L225.94,418.35" fill="none" stroke="#ffd25a" stroke-width="0.9" stroke-dasharray="8,2"/>
<path d="M225.94,418.35L265.57,417.81" fill="none" stroke="#ffd25a" stroke-width="0.9" stroke-dasharray="8,2"/>
<path d="M265.57,417.81L305.20,419.43" fill="none" stroke="#ffd25a" stroke-width="0.9" stroke-dasharray="8,2"/>
<path d="M305.20,419.43L344.83,419.43" fill="none" stroke="#ffd25a" stroke-width="0.9" stroke-dasharray="8,2"/>
<path d="M344.83,419.43L384.47,420.52" fill="none" stroke="#ffd25a" stroke-width="0.9" stroke-dasharray="8,2"/>
<path d="M384.47,420.52L424.10,420.52" fill="none" stroke="#ffd25a" stroke-width="0.9" stroke-dasharray="8,2"/>
<path d="M424.10,420.52L463.73,420.52" fill="none" stroke="#ffd25a" stroke-width="0.9" stroke-dasharray="8,2"/>
<path d="M463.73,420.52L503.36,420.52" fill="none" stroke="#ffd25a" stroke-width="0.9" stroke-dasharray="8,2"/>
<path d="M503.36,420.52L542.99,419.97" fill="none" stroke="#ffd25a" stroke-width="0.9" stroke-dasharray="8,2"/>
<path d="M542.99,419.97L582.62,420.52" fill="none" stroke="#ffd25a" stroke-width="0.9" stroke-dasharray="8,2"/>
<path d="M582.62,420.52L622.25,415.10" fill="none" stroke="#ffd25a" stroke-width="0.9" stroke-dasharray="8,2"/>
<path d="M107.05,401.00L146.68,409.68" fill="none" stroke="#5ad88a" stroke-width="0.9" stroke-dasharray="1.5,1.5"/>
<path d="M146.68,409.68L186.31,417.81" fill="none" stroke="#5ad88a" stroke-width="0.9" stroke-dasharray="1.5,1.5"/>
<path d="M186.31,417.81L225.94,418.35" fill="none" stroke="#5ad88a" stroke-width="0.9" stroke-dasharray="1.5,1.5"/>
<path d="M225.94,418.35L265.57,416.72" fill="none" stroke="#5ad88a" stroke-width="0.9" stroke-dasharray="1.5,1.5"/>
<path d="M265.57,416.72L305.20,417.81" fill="none" stroke="#5ad88a" stroke-width="0.9" stroke-dasharray="1.5,1.5"/>
<path d="M305.20,417.81L344.83,416.18" fill="none" stroke="#5ad88a" stroke-width="0.9" stroke-dasharray="1.5,1.5"/>
<path d="M344.83,416.18L384.47,413.47" fill="none" stroke="#5ad88a" stroke-width="0.9" stroke-dasharray="1.5,1.5"/>
<path d="M384.47,413.47L424.10,399.92" fill="none" stroke="#5ad88a" stroke-width="0.9" stroke-dasharray="1.5,1.5"/>
<path d="M424.10,399.92L463.73,407.51" fill="none" stroke="#5ad88a" stroke-width="0.9" stroke-dasharray="1.5,1.5"/>
<path d="M463.73,407.51L503.36,413.47" fill="none" stroke="#5ad88a" stroke-width="0.9" stroke-dasharray="1.5,1.5"/>
<path d="M503.36,413.47L542.99,413.47" fill="none" stroke="#5ad88a" stroke-width="0.9" stroke-dasharray="7,3"/>
<path d="M542.99,413.47L582.62,417.81" fill="none" stroke="#5ad88a" stroke-width="0.9" stroke-dasharray="7,3"/>
<path d="M582.62,417.81L622.25,405.34" fill="none" stroke="#5ad88a" stroke-width="0.9" stroke-dasharray="1.5,1.5"/>
<path d="M107.05,404.80L146.68,395.58" fill="none" stroke="#9597c9" stroke-width="0.85" stroke-dasharray="1.2,1"/>
<path d="M146.68,395.58L186.31,380.95" fill="none" stroke="#9597c9" stroke-width="0.85" stroke-dasharray="1.2,0.8"/>
<path d="M186.31,380.95L225.94,326.21" fill="none" stroke="#9597c9" stroke-width="0.85" stroke-dasharray="1.2,0.8"/>
<path d="M225.94,326.21L265.57,391.79" fill="none" stroke="#9597c9" stroke-width="0.85" stroke-dasharray="1.2,0.8"/>
<path d="M265.57,391.79L305.20,408.05" fill="none" stroke="#9597c9" stroke-width="0.85" stroke-dasharray="1.2,0.8"/>
<path d="M305.20,408.05L344.83,350.60" fill="none" stroke="#9597c9" stroke-width="0.85" stroke-dasharray="1.2,0.8"/>
<path d="M344.83,350.60L384.47,399.38" fill="none" stroke="#9597c9" stroke-width="0.85" stroke-dasharray="1.2,0.8"/>
<path d="M384.47,399.38L424.10,403.71" fill="none" stroke="#9597c9" stroke-width="0.85" stroke-dasharray="7,3.5"/>
<path d="M424.10,403.71L463.73,407.51" fill="none" stroke="#9597c9" stroke-width="0.85" stroke-dasharray="7,3.5"/>
<path d="M463.73,407.51L503.36,408.59" fill="none" stroke="#9597c9" stroke-width="0.85" stroke-dasharray="7,3.5"/>
<path d="M503.36,408.59L542.99,403.17" fill="none" stroke="#9597c9" stroke-width="0.85" stroke-dasharray="7,3.5"/>
<path d="M542.99,403.17L582.62,420.52" fill="none" stroke="#9597c9" stroke-width="0.85"/>
<path d="M582.62,420.52L622.25,421.06" fill="none" stroke="#9597c9" stroke-width="0.85" stroke-dasharray="5,3"/>
<path d="M107.05,407.51L146.68,412.39" fill="none" stroke="#bdbdbd" stroke-width="0.9" stroke-dasharray="1.5,1.5"/>
<path d="M146.68,412.39L186.31,418.35" fill="none" stroke="#bdbdbd" stroke-width="0.9" stroke-dasharray="1.5,1.5"/>
<path d="M186.31,418.35L225.94,419.43" fill="none" stroke="#bdbdbd" stroke-width="0.9" stroke-dasharray="1.5,1.5"/>
<path d="M225.94,419.43L265.57,419.43" fill="none" stroke="#bdbdbd" stroke-width="0.9" stroke-dasharray="1.5,1.5"/>
<path d="M265.57,419.43L305.20,419.97" fill="none" stroke="#bdbdbd" stroke-width="0.9" stroke-dasharray="1.5,1.5"/>
<path d="M305.20,419.97L344.83,419.43" fill="none" stroke="#bdbdbd" stroke-width="0.9" stroke-dasharray="1.5,1.5"/>
<path d="M344.83,419.43L384.47,419.97" fill="none" stroke="#bdbdbd" stroke-width="0.9" stroke-dasharray="1.5,1.5"/>
<path d="M384.47,419.97L424.10,419.97" fill="none" stroke="#bdbdbd" stroke-width="0.9" stroke-dasharray="1.5,1.5"/>
<path d="M424.10,419.97L463.73,419.97" fill="none" stroke="#bdbdbd" stroke-width="0.9" stroke-dasharray="1.5,1.5"/>
<path d="M463.73,419.97L503.36,419.97" fill="none" stroke="#bdbdbd" stroke-width="0.9" stroke-dasharray="1.5,1.5"/>
<path d="M503.36,419.97L542.99,419.97" fill="none" stroke="#bdbdbd" stroke-width="0.9" stroke-dasharray="1.5,1.5"/>
<path d="M542.99,419.97L582.62,420.52" fill="none" stroke="#bdbdbd" stroke-width="0.9" stroke-dasharray="1.5,1.5"/>
<path d="M582.62,420.52L622.25,410.76" fill="none" stroke="#bdbdbd" stroke-width="0.9" stroke-dasharray="1.5,1.5"/>
<path d="M146.68,389.62V401.55M144.18,389.62H149.18M144.18,401.55H149.18" stroke="#7679b8" stroke-width="1" fill="none"/>
<path d="M186.31,369.03V392.87M183.81,369.03H188.81M183.81,392.87H188.81" stroke="#7679b8" stroke-width="1" fill="none"/>
<path d="M225.94,321.33V331.09M223.44,321.33H228.44M223.44,331.09H228.44" stroke="#7679b8" stroke-width="1" fill="none"/>
<path d="M263.07,383.12H268.07M263.07,400.46H268.07" stroke="#7679b8" stroke-width="1" fill="none"/>
<path d="M342.33,340.30H347.33M342.33,360.90H347.33" stroke="#7679b8" stroke-width="1" fill="none"/>
<path d="M619.75,392.33H624.75" stroke="#6cdc94" stroke-width="1" fill="none"/>
<path d="M463.73,404.80V410.22M461.23,404.80H466.23M461.23,410.22H466.23" stroke="#6cdc94" stroke-width="1" fill="none"/>
<rect x="104.45" y="411.95" width="5.20" height="5.20" fill="#ff1a1a"/>
<rect x="144.08" y="414.12" width="5.20" height="5.20" fill="#ff1a1a"/>
<rect x="183.71" y="418.19" width="5.20" height="5.20" fill="#ff1a1a"/>
<rect x="223.34" y="416.29" width="5.20" height="5.20" fill="#ff1a1a"/>
<rect x="262.97" y="415.75" width="5.20" height="5.20" fill="#ff1a1a"/>
<rect x="302.60" y="416.29" width="5.20" height="5.20" fill="#ff1a1a"/>
<rect x="342.23" y="416.83" width="5.20" height="5.20" fill="#ff1a1a"/>
<rect x="381.87" y="417.37" width="5.20" height="5.20" fill="#ff1a1a"/>
<rect x="421.50" y="417.37" width="5.20" height="5.20" fill="#ff1a1a"/>
<rect x="461.13" y="417.92" width="5.20" height="5.20" fill="#ff1a1a"/>
<rect x="500.76" y="417.37" width="5.20" height="5.20" fill="#ff1a1a"/>
<rect x="540.39" y="417.37" width="5.20" height="5.20" fill="#ff1a1a"/>
<rect x="580.02" y="417.37" width="5.20" height="5.20" fill="#ff1a1a"/>
<rect x="619.65" y="414.66" width="5.20" height="5.20" fill="#ff1a1a"/>
<circle cx="107.05" cy="405.34" r="3.00" fill="#3c6ea8"/>
<circle cx="146.68" cy="410.76" r="3.00" fill="#3c6ea8"/>
<circle cx="186.31" cy="417.81" r="3.00" fill="#3c6ea8"/>
<circle cx="225.94" cy="418.35" r="3.00" fill="#3c6ea8"/>
<circle cx="265.57" cy="420.52" r="3.00" fill="#3c6ea8"/>
<circle cx="305.20" cy="419.43" r="3.00" fill="#3c6ea8"/>
<circle cx="344.83" cy="418.89" r="3.00" fill="#3c6ea8"/>
<circle cx="384.47" cy="420.52" r="3.00" fill="#3c6ea8"/>
<circle cx="424.10" cy="420.52" r="3.00" fill="#3c6ea8"/>
<circle cx="463.73" cy="419.97" r="3.00" fill="#3c6ea8"/>
<circle cx="503.36" cy="419.97" r="3.00" fill="#3c6ea8"/>
<circle cx="542.99" cy="419.97" r="3.00" fill="#3c6ea8"/>
<circle cx="582.62" cy="421.06" r="3.00" fill="#3c6ea8"/>
<circle cx="622.25" cy="420.52" r="3.00" fill="#3c6ea8"/>
<path d="M107.05,408.99 L110.45,414.94 L103.65,414.94Z" fill="#ffc21a"/>
<path d="M146.68,411.15 L150.08,417.10 L143.28,417.10Z" fill="#ffc21a"/>
<path d="M186.31,414.41 L189.71,420.36 L182.91,420.36Z" fill="#ffc21a"/>
<path d="M225.94,414.95 L229.34,420.90 L222.54,420.90Z" fill="#ffc21a"/>
<path d="M265.57,414.41 L268.97,420.36 L262.17,420.36Z" fill="#ffc21a"/>
<path d="M305.20,416.03 L308.60,421.98 L301.80,421.98Z" fill="#ffc21a"/>
<path d="M344.83,416.03 L348.23,421.98 L341.43,421.98Z" fill="#ffc21a"/>
<path d="M384.47,417.12 L387.87,423.07 L381.07,423.07Z" fill="#ffc21a"/>
<path d="M424.10,417.12 L427.50,423.07 L420.70,423.07Z" fill="#ffc21a"/>
<path d="M463.73,417.12 L467.13,423.07 L460.33,423.07Z" fill="#ffc21a"/>
<path d="M503.36,417.12 L506.76,423.07 L499.96,423.07Z" fill="#ffc21a"/>
<path d="M542.99,416.57 L546.39,422.52 L539.59,422.52Z" fill="#ffc21a"/>
<path d="M582.62,417.12 L586.02,423.07 L579.22,423.07Z" fill="#ffc21a"/>
<path d="M622.25,411.70 L625.65,417.65 L618.85,417.65Z" fill="#ffc21a"/>
<path d="M107.05,404.40 L110.45,398.45 L103.65,398.45Z" fill="#2ecc6a"/>
<path d="M146.68,413.08 L150.08,407.13 L143.28,407.13Z" fill="#2ecc6a"/>
<path d="M186.31,421.21 L189.71,415.26 L182.91,415.26Z" fill="#2ecc6a"/>
<path d="M225.94,421.75 L229.34,415.80 L222.54,415.80Z" fill="#2ecc6a"/>
<path d="M265.57,420.12 L268.97,414.17 L262.17,414.17Z" fill="#2ecc6a"/>
<path d="M305.20,421.21 L308.60,415.26 L301.80,415.26Z" fill="#2ecc6a"/>
<path d="M344.83,419.58 L348.23,413.63 L341.43,413.63Z" fill="#2ecc6a"/>
<path d="M384.47,416.87 L387.87,410.92 L381.07,410.92Z" fill="#2ecc6a"/>
<path d="M424.10,403.32 L427.50,397.37 L420.70,397.37Z" fill="#2ecc6a"/>
<path d="M463.73,410.91 L467.13,404.96 L460.33,404.96Z" fill="#2ecc6a"/>
<path d="M503.36,416.87 L506.76,410.92 L499.96,410.92Z" fill="#2ecc6a"/>
<path d="M542.99,416.87 L546.39,410.92 L539.59,410.92Z" fill="#2ecc6a"/>
<path d="M582.62,421.21 L586.02,415.26 L579.22,415.26Z" fill="#2ecc6a"/>
<path d="M622.25,408.74 L625.65,402.79 L618.85,402.79Z" fill="#2ecc6a"/>
<path d="M107.05,401.35 L110.50,404.80 L107.05,408.25 L103.60,404.80Z" fill="#5a5ba8"/>
<path d="M146.68,392.13 L150.13,395.58 L146.68,399.03 L143.23,395.58Z" fill="#5a5ba8"/>
<path d="M186.31,377.50 L189.76,380.95 L186.31,384.40 L182.86,380.95Z" fill="#5a5ba8"/>
<path d="M225.94,322.76 L229.39,326.21 L225.94,329.66 L222.49,326.21Z" fill="#5a5ba8"/>
<path d="M265.57,388.34 L269.02,391.79 L265.57,395.24 L262.12,391.79Z" fill="#5a5ba8"/>
<path d="M305.20,404.60 L308.65,408.05 L305.20,411.50 L301.75,408.05Z" fill="#5a5ba8"/>
<path d="M344.83,347.15 L348.28,350.60 L344.83,354.05 L341.38,350.60Z" fill="#5a5ba8"/>
<path d="M384.47,395.93 L387.92,399.38 L384.47,402.83 L381.02,399.38Z" fill="#5a5ba8"/>
<path d="M424.10,400.26 L427.55,403.71 L424.10,407.16 L420.65,403.71Z" fill="#5a5ba8"/>
<path d="M463.73,404.06 L467.18,407.51 L463.73,410.96 L460.28,407.51Z" fill="#5a5ba8"/>
<path d="M503.36,405.14 L506.81,408.59 L503.36,412.04 L499.91,408.59Z" fill="#5a5ba8"/>
<path d="M542.99,399.72 L546.44,403.17 L542.99,406.62 L539.54,403.17Z" fill="#5a5ba8"/>
<path d="M582.62,417.07 L586.07,420.52 L582.62,423.97 L579.17,420.52Z" fill="#5a5ba8"/>
<path d="M622.25,417.61 L625.70,421.06 L622.25,424.51 L618.80,421.06Z" fill="#5a5ba8"/>
<path d="M104.16,407.51 L109.94,404.11 L109.94,410.91Z" fill="#a0a0a0"/>
<path d="M143.79,412.39 L149.57,408.99 L149.57,415.79Z" fill="#a0a0a0"/>
<path d="M183.42,418.35 L189.20,414.95 L189.20,421.75Z" fill="#a0a0a0"/>
<path d="M223.05,419.43 L228.83,416.03 L228.83,422.83Z" fill="#a0a0a0"/>
<path d="M262.68,419.43 L268.46,416.03 L268.46,422.83Z" fill="#a0a0a0"/>
<path d="M302.31,419.97 L308.09,416.57 L308.09,423.37Z" fill="#a0a0a0"/>
<path d="M341.94,419.43 L347.72,416.03 L347.72,422.83Z" fill="#a0a0a0"/>
<path d="M381.58,419.97 L387.36,416.57 L387.36,423.37Z" fill="#a0a0a0"/>
<path d="M421.21,419.97 L426.99,416.57 L426.99,423.37Z" fill="#a0a0a0"/>
<path d="M460.84,419.97 L466.62,416.57 L466.62,423.37Z" fill="#a0a0a0"/>
<path d="M500.47,419.97 L506.25,416.57 L506.25,423.37Z" fill="#a0a0a0"/>
<path d="M540.10,419.97 L545.88,416.57 L545.88,423.37Z" fill="#a0a0a0"/>
<path d="M579.73,420.52 L585.51,417.12 L585.51,423.92Z" fill="#a0a0a0"/>
<path d="M619.36,410.76 L625.14,407.36 L625.14,414.16Z" fill="#a0a0a0"/>
<path d="M47.00,434.90H681.70" stroke="#5c5c5c" stroke-width="1.8" fill="none"/>
<path d="M47.60,313.20V434.90" stroke="#222" stroke-width="1.3" fill="none"/>
<path d="M43.00,421.60H47.60M43.00,394.50H47.60M43.00,367.40H47.60M43.00,340.30H47.60M43.00,313.20H47.60M45.60,435.15H47.60M45.60,408.05H47.60M45.60,380.95H47.60M45.60,353.85H47.60M45.60,326.75H47.60M67.42,434.90V439.30M107.05,434.90V439.30M146.68,434.90V439.30M186.31,434.90V439.30M225.94,434.90V439.30M265.57,434.90V439.30M305.20,434.90V439.30M344.83,434.90V439.30M384.47,434.90V439.30M424.10,434.90V439.30M463.73,434.90V439.30M503.36,434.90V439.30M542.99,434.90V439.30M582.62,434.90V439.30M622.25,434.90V439.30M661.88,434.90V439.30" stroke="#1a1a1a" stroke-width="1.25" fill="none"/>
<text x="40.10" y="424.50" font-size="9.7" style="stroke-width:0.22px" text-anchor="end" fill="#111">0.0</text>
<text x="40.10" y="397.40" font-size="9.7" style="stroke-width:0.22px" text-anchor="end" fill="#111">0.5</text>
<text x="40.10" y="370.30" font-size="9.7" style="stroke-width:0.22px" text-anchor="end" fill="#111">1.0</text>
<text x="40.10" y="343.20" font-size="9.7" style="stroke-width:0.22px" text-anchor="end" fill="#111">1.5</text>
<text x="40.10" y="316.10" font-size="9.7" style="stroke-width:0.22px" text-anchor="end" fill="#111">2.0</text>
<text transform="translate(13.2,373.0) rotate(-90)" x="0" y="0" font-size="12" style="stroke-width:0.18px" text-anchor="middle" fill="#111">PP (mg·L<tspan font-size="8" dy="-5.2">-1</tspan><tspan dy="5.2">)</tspan></text>
<text transform="translate(113.35,452.75) rotate(-29)" x="0" y="0" font-size="12" text-anchor="end" fill="#111">9 Mar.</text>
<text transform="translate(152.98,452.75) rotate(-29)" x="0" y="0" font-size="12" text-anchor="end" fill="#111">18 Mar.</text>
<text transform="translate(192.61,452.75) rotate(-29)" x="0" y="0" font-size="12" text-anchor="end" fill="#111">25 Mar.</text>
<text transform="translate(232.24,452.75) rotate(-29)" x="0" y="0" font-size="12" text-anchor="end" fill="#111">1 Apr.</text>
<text transform="translate(271.87,452.75) rotate(-29)" x="0" y="0" font-size="12" text-anchor="end" fill="#111">8 Apr.</text>
<text transform="translate(311.50,452.75) rotate(-29)" x="0" y="0" font-size="12" text-anchor="end" fill="#111">15 Apr.</text>
<text transform="translate(351.13,452.75) rotate(-29)" x="0" y="0" font-size="12" text-anchor="end" fill="#111">29 Apr.</text>
<text transform="translate(390.77,452.75) rotate(-29)" x="0" y="0" font-size="12" text-anchor="end" fill="#111">6 May.</text>
<text transform="translate(430.40,452.75) rotate(-29)" x="0" y="0" font-size="12" text-anchor="end" fill="#111">13 May.</text>
<text transform="translate(470.03,452.75) rotate(-29)" x="0" y="0" font-size="12" text-anchor="end" fill="#111">20 May.</text>
<text transform="translate(509.66,452.75) rotate(-29)" x="0" y="0" font-size="12" text-anchor="end" fill="#111">27 May.</text>
<text transform="translate(549.29,452.75) rotate(-29)" x="0" y="0" font-size="12" text-anchor="end" fill="#111">3 Jun.</text>
<text transform="translate(588.92,452.75) rotate(-29)" x="0" y="0" font-size="12" text-anchor="end" fill="#111">17 Jun.</text>
<text transform="translate(628.55,452.75) rotate(-29)" x="0" y="0" font-size="12" text-anchor="end" fill="#111">24 Jun.</text>
<text x="353.5" y="486.7" font-size="14" style="stroke-width:0.2px" letter-spacing="0.45" text-anchor="middle" fill="#111">Date</text>
<rect x="530.5" y="3.0" width="38.5" height="69.6" fill="#fff" stroke="#666" stroke-width="1.1"/>
<path d="M532.2,9.4H552.5" stroke="#ff5a5a" stroke-width="1"/>
<rect x="539.70" y="6.80" width="5.20" height="5.20" fill="#ff1a1a"/>
<text x="555.0" y="12.75" font-size="9.8" fill="#111">CT</text>
<path d="M532.2,20.7H552.5" stroke="#6a8cbc" stroke-width="1"/>
<circle cx="542.30" cy="20.70" r="3.00" fill="#3c6ea8"/>
<text x="555.0" y="24.05" font-size="9.8" fill="#111">IR</text>
<path d="M532.2,32.0H552.5" stroke="#ffd25a" stroke-width="1"/>
<path d="M542.30,28.19 L546.11,34.86 L538.49,34.86Z" fill="#ffc21a"/>
<text x="555.0" y="35.35" font-size="9.8" fill="#111">CA</text>
<path d="M532.2,43.4H552.5" stroke="#5ad88a" stroke-width="1"/>
<path d="M542.30,47.21 L546.11,40.54 L538.49,40.54Z" fill="#2ecc6a"/>
<text x="555.0" y="46.75" font-size="9.8" fill="#111">PH</text>
<path d="M532.2,54.75H552.5" stroke="#e6e6f0" stroke-width="0.8"/>
<path d="M542.30,51.30 L545.75,54.75 L542.30,58.20 L538.85,54.75Z" fill="#5a5ba8"/>
<text x="555.0" y="58.10" font-size="9.8" fill="#111">SU</text>
<path d="M539.06,66.10 L545.54,62.29 L545.54,69.91Z" fill="#a0a0a0"/>
<text x="555.0" y="69.45" font-size="9.8" fill="#111">KA</text>
</svg></body></html>
